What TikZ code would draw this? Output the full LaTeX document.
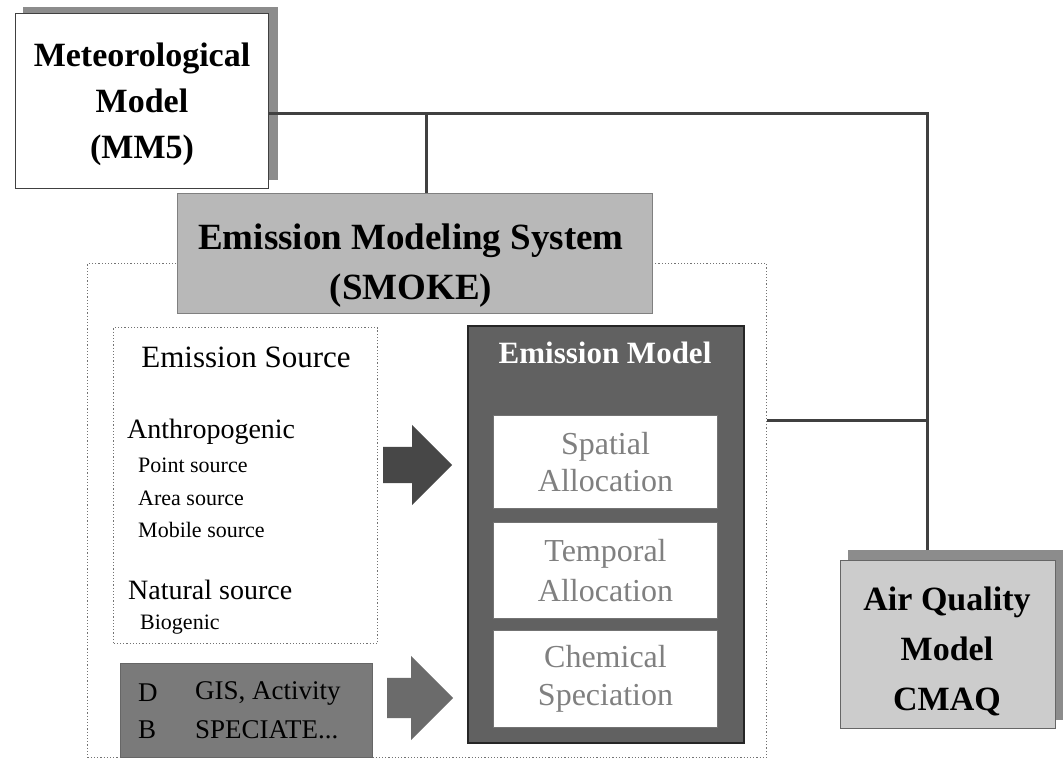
\documentclass[tikz,border=0pt]{standalone}
\usepackage{fontspec}
\setmainfont{Liberation Serif}
\usetikzlibrary{shapes.arrows}
\tikzset{
  conn/.style={line width=3pt, draw=black!75},
  shadowbox/.style={fill=black!45, draw=none},
  plainbox/.style={draw=black!75, line width=1.4pt, fill=white, anchor=north west, inner sep=0pt},
  dotbox/.style={draw=black!55, dotted, line width=1.2pt, anchor=north west, inner sep=0pt},
  smokebox/.style={fill=black!28, draw=black!50, line width=1.4pt, anchor=north west, inner sep=0pt},
  darkbox/.style={fill=black!62, draw=black!85, line width=2.2pt, anchor=north west, inner sep=0pt},
  midbox/.style={fill=black!52, draw=black!60, line width=1pt, anchor=north west, inner sep=0pt},
  whitebox/.style={fill=white, draw=black!55, line width=1pt, anchor=north west, inner sep=0pt, align=center, text=black!50},
  aqbox/.style={fill=black!20, draw=black!60, line width=1.4pt, anchor=north west, inner sep=0pt},
  bigarrow/.style={single arrow, draw=none, inner xsep=0pt, anchor=west, single arrow head extend=22pt},
  lbl/.style={inner sep=0pt, anchor=west},
  txt/.style={inner sep=0pt, align=center},
}
\begin{document}
\begin{tikzpicture}[x=1pt,y=-1pt]
\useasboundingbox (0,0) rectangle (1063,774);

% dotted SMOKE frame
\node[dotbox, minimum width=679pt, minimum height=494pt] (frame) at (87,263) {};

% Meteorological model
\fill[shadowbox] (23,7) rectangle (278,180);
\node[plainbox, minimum width=253pt, minimum height=175pt] (mm5) at (15,13) {};
\node[txt, font=\fontsize{34}{46}\selectfont\bfseries] (mm5t) at (142,104)
  {Meteorological\\Model\\(MM5)};

% Air quality model
\fill[shadowbox] (848,550) rectangle (1063,720);
\node[aqbox, minimum width=215pt, minimum height=168pt] (aq) at (840,560) {};
\node[txt, font=\fontsize{34}{50}\selectfont\bfseries] (aqt) at (947,651)
  {Air Quality\\Model\\CMAQ};

% SMOKE title box
\node[smokebox, minimum width=475pt, minimum height=120pt] (smoke) at (177,193) {};
\node[txt, font=\fontsize{37}{50}\selectfont\bfseries] (smoket) at (411,266)
  {Emission Modeling System\\(SMOKE)};

% connectors
\coordinate (j1) at (426,113);
\coordinate (j2) at (927,113);
\coordinate (j3) at (767,420);
\draw[conn] (mm5.east |- j1) -- (j2) -- (j2 |- 0,550);
\draw[conn] (j1) -- (j1 |- smoke.north);
\draw[conn] (j3) -- (j3 -| j2);

% Emission source box
\node[dotbox, minimum width=264pt, minimum height=316pt] (src) at (113,327) {};
\node[inner sep=0pt, font=\fontsize{31}{34}\selectfont] (srct) at (246,357) {Emission Source};
\node[lbl, font=\fontsize{28}{30}\selectfont] (anth) at (127,432) {Anthropogenic};
\node[lbl, font=\fontsize{22}{24}\selectfont] (pt) at (138,465) {Point source};
\node[lbl, font=\fontsize{22}{24}\selectfont] (ar) at (138,498) {Area source};
\node[lbl, font=\fontsize{22}{24}\selectfont] (mob) at (138,530) {Mobile source};
\node[lbl, font=\fontsize{28}{30}\selectfont] (nat) at (128,590) {Natural source};
\node[lbl, font=\fontsize{22}{24}\selectfont] (bio) at (140,625) {Biogenic};

% database box
\node[midbox, minimum width=252pt, minimum height=94pt] (db) at (120,663) {};
\node[lbl, font=\fontsize{27}{30}\selectfont] (dl) at (138,693) {D};
\node[lbl, font=\fontsize{27}{30}\selectfont] (gis) at (195,693) {GIS, Activity};
\node[lbl, font=\fontsize{27}{30}\selectfont] (bl) at (138,730) {B};
\node[lbl, font=\fontsize{27}{30}\selectfont] (spec) at (195,730) {SPECIATE...};

% Emission model
\node[darkbox, minimum width=276pt, minimum height=417pt] (em) at (467,325) {};
\node[inner sep=0pt, text=white, font=\fontsize{31}{34}\selectfont\bfseries] (emt) at (605,353) {Emission Model};
\node[whitebox, minimum width=224pt, minimum height=93pt, font=\fontsize{32}{37}\selectfont] (spa) at (493,415) {Spatial\\Allocation};
\node[whitebox, minimum width=224pt, minimum height=96pt, font=\fontsize{32}{40}\selectfont] (tem) at (493,522) {Temporal\\Allocation};
\node[whitebox, minimum width=224pt, minimum height=97pt, font=\fontsize{32}{38}\selectfont] (che) at (493,630) {Chemical\\Speciation};

% arrows
\node[bigarrow, fill=black!72, inner ysep=18pt, minimum width=80pt, minimum height=69pt] (a1) at (383,465) {};
\node[bigarrow, fill=black!58, inner ysep=20pt, minimum width=81pt, minimum height=66pt] (a2) at (387,698) {};
\end{tikzpicture}
\end{document}
